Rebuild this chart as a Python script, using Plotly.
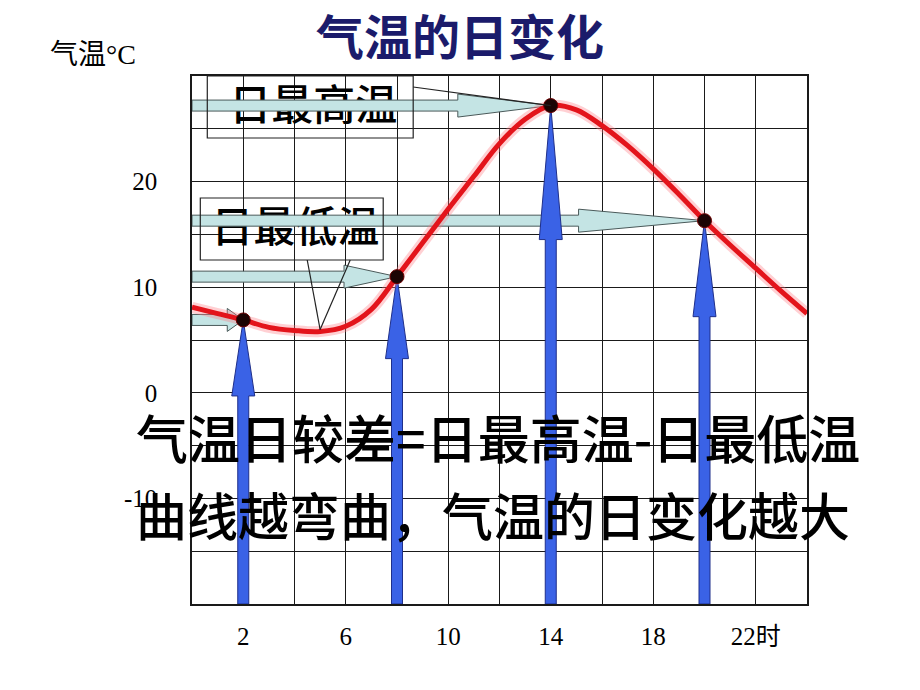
import plotly.graph_objects as go

# ---------------- data ----------------
hours = [0, 1, 2, 3, 4, 5, 6, 7, 8, 9, 10, 11, 12,
         13, 14, 15, 16, 17, 18, 19, 20, 21, 22, 23, 24]
temps = [8.1, 7.5, 6.9, 6.2, 5.9, 5.8, 6.3, 7.9, 11.0, 14.2, 17.4, 20.5, 23.6,
         25.9, 27.2, 26.8, 25.3, 23.4, 21.2, 18.8, 16.3, 14.0, 11.8, 9.6, 7.5]
key_hours = [2, 8, 14, 20]
x_tickvals = [0, 2, 4, 6, 8, 10, 12, 14, 16, 18, 20, 22, 24]
x_ticktext = ["", "2", "", "6", "", "10", "", "14", "", "18", "", "22时", ""]
y_tickvals = [-20, -15, -10, -5, 0, 5, 10, 15, 20, 25, 30]
y_ticktext = ["", "", "-10", "", "0", "", "10", "", "20", "", ""]

title_text = "气温的日变化"
y_title = "气温°C"
label_high = "日最高温"
label_low = "日最低温"
line1 = "气温日较差=日最高温-日最低温"
line2 = "曲线越弯曲，气温的日变化越大"

# ---------------- geometry helpers ----------------
W, H = 920, 690
OFF = 8                     # page body margin
FW, FH = W - 2 * OFF, H - 2 * OFF
L, R, T, B = 191.7, 807.0, 76.0, 604.0   # plot area in screen pixels
XMIN, XMAX, YMIN, YMAX = 0, 24, -20, 30
PXH = (R - L) / (XMAX - XMIN)   # px per hour
PXT = (B - T) / (YMAX - YMIN)   # px per degree


def dxp(px):
    return px / PXH


def dyp(px):
    return px / PXT


def px2x(px):
    return XMIN + (px - L) / PXH


def py2y(py):
    return YMIN + (B - py) / PXT


def pxx(px):
    return (px - L) / (R - L)


def pyy(py):
    return (B - py) / (B - T)


key_temps = [temps[hours.index(h)] for h in key_hours]
imin = temps.index(min(temps))
min_pt = (hours[imin], temps[imin])

fig = go.Figure()

# box labels (drawn first so that the arrows pass over them)
fig.add_trace(go.Scatter(x=[px2x(313), px2x(295)], y=[py2y(109), py2y(231)],
                         mode="text", text=[label_high, label_low],
                         textposition="middle center",
                         textfont=dict(family="Noto Sans CJK SC", size=42,
                                       color="#000", weight=500),
                         hoverinfo="skip", showlegend=False, cliponaxis=False))

# light (horizontal) arrows pointing to the key points
light_head = [16, 53, 93, 126]
sh, hh = 5.5, 11.5
for (xk, yk), lh in zip(zip(key_hours, key_temps), light_head):
    xh = xk - dxp(lh)
    xs = [XMIN, xh, xh, xk, xh, xh, XMIN, XMIN]
    ys = [yk + dyp(sh), yk + dyp(sh), yk + dyp(hh), yk, yk - dyp(hh),
          yk - dyp(sh), yk - dyp(sh), yk + dyp(sh)]
    fig.add_trace(go.Scatter(x=xs, y=ys, mode="lines", fill="toself",
                             fillcolor="#c4e4e4",
                             line=dict(color="#4a5a5a", width=1),
                             hoverinfo="skip", showlegend=False))

# blue (vertical) arrows
blue_head = [76, 82, 134, 96]
sw, hw = 5.5, 11.5
for (xk, yk), bl in zip(zip(key_hours, key_temps), blue_head):
    yb = yk - dyp(bl)
    xs = [xk, xk + dxp(hw), xk + dxp(sw), xk + dxp(sw), xk - dxp(sw),
          xk - dxp(sw), xk - dxp(hw), xk]
    ys = [yk, yb, yb, YMIN, YMIN, yb, yb, yk]
    fig.add_trace(go.Scatter(x=xs, y=ys, mode="lines", fill="toself",
                             fillcolor="#3a62e6",
                             line=dict(color="#1f2f8a", width=1),
                             hoverinfo="skip", showlegend=False))

# red curve with glow
fig.add_trace(go.Scatter(x=hours, y=temps, mode="lines",
                         line=dict(color="rgba(255,120,130,0.35)", width=11,
                                   shape="spline", smoothing=1.0),
                         hoverinfo="skip", showlegend=False))
fig.add_trace(go.Scatter(x=hours, y=temps, mode="lines",
                         line=dict(color="#e3141b", width=5,
                                   shape="spline", smoothing=1.0),
                         showlegend=False))

# key points
fig.add_trace(go.Scatter(x=key_hours, y=key_temps, mode="markers",
                         marker=dict(size=14, color="#1c0404",
                                     line=dict(color="#6a0000", width=1)),
                         showlegend=False))

# callout boxes
box_high = (px2x(207), py2y(138), px2x(413), py2y(76))
box_low = (px2x(200), py2y(260), px2x(383), py2y(198))
for bx in (box_high, box_low):
    fig.add_shape(type="rect", x0=bx[0], y0=bx[1], x1=bx[2], y1=bx[3],
                  line=dict(color="#222", width=1.2), fillcolor="rgba(0,0,0,0)",
                  layer="above")

# callout pointers
hi_pt = (key_hours[2], key_temps[2])
fig.add_shape(type="line", x0=px2x(413), y0=py2y(87), x1=hi_pt[0], y1=hi_pt[1],
              line=dict(color="#222", width=1.2), layer="above")
for bxp in (307, 350):
    fig.add_shape(type="line", x0=px2x(bxp), y0=py2y(260),
                  x1=min_pt[0], y1=min_pt[1] + dyp(2),
                  line=dict(color="#222", width=1.2), layer="above")


def note(x, y, text, size, color="#000", family="Noto Sans CJK SC", weight=None,
         xref="paper", yref="paper"):
    f = dict(family=family, size=size, color=color)
    if weight is not None:
        f["weight"] = weight
    fig.add_annotation(xref=xref, yref=yref, x=x, y=y, text=text,
                       showarrow=False, xanchor="center", yanchor="middle",
                       borderpad=0, font=f)


# title and axis title
note(pxx(460), pyy(34), title_text, 48, color="#1b1b6b", weight="bold")
note(pxx(93), pyy(55), y_title, 28,
     family="Liberation Serif, Noto Sans CJK SC")

# big overlay text
note(pxx(498), pyy(436), line1, 52, weight=500)
note(pxx(493), pyy(514), line2, 51, weight=500)

tickfont = dict(family="Liberation Serif, Noto Sans CJK SC", size=25, color="#000")
fig.update_xaxes(range=[XMIN, XMAX], tickvals=x_tickvals, ticktext=x_ticktext,
                 showgrid=True, gridcolor="#1a1a1a", gridwidth=1.2,
                 showline=True, linecolor="#1a1a1a", linewidth=1.5, mirror=True,
                 zeroline=False, ticks="", tickfont=tickfont,
                 ticklabelstandoff=9)
fig.update_yaxes(range=[YMIN, YMAX], tickvals=y_tickvals, ticktext=y_ticktext,
                 showgrid=True, gridcolor="#1a1a1a", gridwidth=1.2,
                 showline=True, linecolor="#1a1a1a", linewidth=1.5, mirror=True,
                 zeroline=False, ticks="", tickfont=tickfont,
                 ticklabelstandoff=28)

fig.update_layout(width=FW, height=FH,
                  margin=dict(l=L - OFF, r=FW - (R - OFF), t=T - OFF,
                              b=FH - (B - OFF)),
                  paper_bgcolor="white", plot_bgcolor="white",
                  showlegend=False)

fig.write_html("out.html")
